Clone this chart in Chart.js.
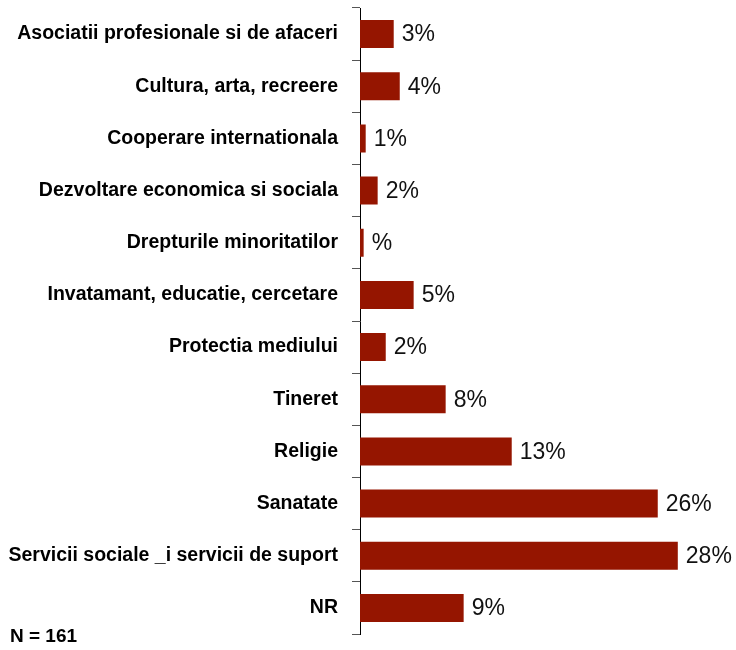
<!DOCTYPE html>
<html>
<head>
<meta charset="utf-8">
<script src="https://cdn.jsdelivr.net/npm/chart.js@4"></script>
<style>
  html, body { margin: 0; padding: 0; background: #fff; }
  #wrap { width: 736px; height: 650px; }
</style>
</head>
<body>
<div id="wrap"><canvas id="myChart"></canvas></div>
<script>
var categories = [
    'Asociatii profesionale si de afaceri',
    'Cultura, arta, recreere',
    'Cooperare internationala',
    'Dezvoltare economica si sociala',
    'Drepturile minoritatilor',
    'Invatamant, educatie, cercetare',
    'Protectia mediului',
    'Tineret',
    'Religie',
    'Sanatate',
    'Servicii sociale _i servicii de suport',
    'NR'
];
var values = [2.96, 3.49, 0.5, 1.55, 0.32, 4.71, 2.26, 7.52, 13.32, 26.14, 27.9, 9.1];
var valueLabels = ['3%', '4%', '1%', '2%', '%', '5%', '2%', '8%', '13%', '26%', '28%', '9%'];
var noteText = 'N = 161';

// value labels at the end of each bar + the N note
const labelPlugin = {
    id: 'labelPlugin',
    afterDatasetsDraw(chart) {
        const ctx = chart.ctx;
        const meta = chart.getDatasetMeta(0);
        ctx.save();
        ctx.fillStyle = '#111';
        ctx.font = '23px "Liberation Sans", Arial, sans-serif';
        ctx.textAlign = 'left';
        ctx.textBaseline = 'middle';
        meta.data.forEach(function (bar, i) {
            ctx.fillText(valueLabels[i], bar.x + 8, bar.y + 1);
        });
        ctx.font = 'bold 19px "Liberation Sans", Arial, sans-serif';
        ctx.fillStyle = '#000';
        ctx.fillText(noteText, 10, 637);
        ctx.restore();
    }
};

const data = {
    labels: categories,
    datasets: [{
        data: values,
        backgroundColor: '#951500',
        borderWidth: 0,
        categoryPercentage: 1,
        barPercentage: 0.537
    }]
};

const config = {
    type: 'bar',
    data: data,
    options: {
        indexAxis: 'y',
        responsive: true,
        maintainAspectRatio: false,
        animation: false,
        layout: { padding: { top: 8, bottom: 16, left: 0, right: 11.5 } },
        plugins: {
            legend: { display: false },
            tooltip: { enabled: false }
        },
        scales: {
            x: {
                display: false,
                min: 0,
                max: 32
            },
            y: {
                afterFit(axis) {
                    axis.width = 360;
                    axis.paddingTop = 0;
                    axis.paddingBottom = 0;
                },
                grid: {
                    offset: true,
                    drawOnChartArea: false,
                    drawTicks: true,
                    tickLength: 8,
                    color: '#555'
                },
                border: { display: true, color: '#000', width: 1 },
                ticks: {
                    color: '#000',
                    padding: 14,
                    font: { family: '"Liberation Sans", Arial, sans-serif', size: 19.5, weight: 'bold' }
                }
            }
        }
    },
    plugins: [labelPlugin]
};

const myChart = new Chart(
    document.getElementById('myChart'),
    config
);
</script>
</body>
</html>
